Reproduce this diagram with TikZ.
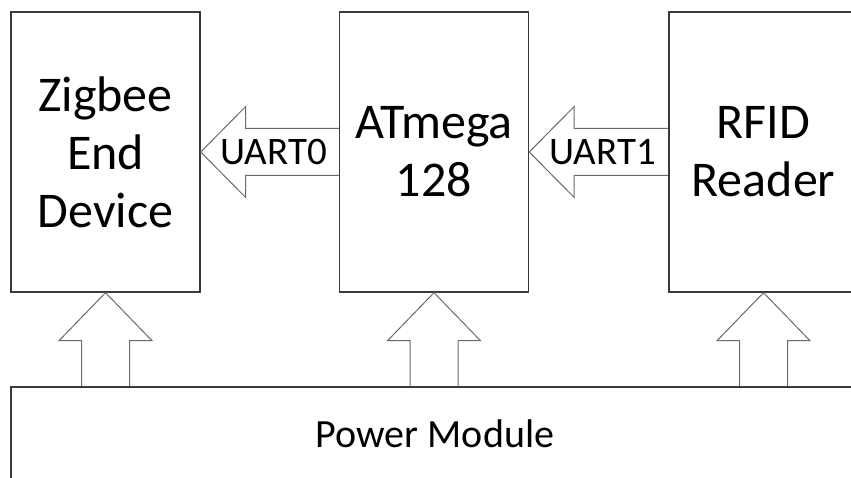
\documentclass[tikz,border=0pt]{standalone}
\usepackage{fontspec}
\setmainfont{Carlito}
\usepackage{xcolor}
\usepackage{tikz}
\usetikzlibrary{calc}
\definecolor{boxline}{HTML}{3A3A3A}
\definecolor{arrowline}{HTML}{6A6A6A}

\begin{document}
\begin{tikzpicture}[x=1pt, y=-1pt,
    block/.style={draw=boxline, line width=1.4pt, minimum width=189pt, minimum height=280pt,
        align=center, inner sep=0pt, font=\fontsize{50}{58}\selectfont},
    fatarrow/.style={draw=arrowline, line width=1pt, line join=miter},
    buslabel/.style={font=\fontsize{39}{42}\selectfont}]
    \useasboundingbox (0,0) rectangle (851,478);

    % Modules
    \node[block] (zed) at (105.5,152) {Zigbee\\End\\Device};
    \node[block] (mcu) at (434,152) {ATmega\\128};
    \node[block] (rfid) at (763.5,152) {RFID\\Reader};

    % Power supply
    \node[block, minimum width=848pt, minimum height=94pt,
        font=\fontsize{40}{44}\selectfont] (pwr) at (435,434) {Power Module};

    % Serial links
    \foreach \src/\dst/\lbl in {mcu/zed/UART0, rfid/mcu/UART1} {
        \draw[fatarrow] let \p1=(\src.west), \p2=(\dst.east) in
            (\x1,\y1+23.5pt) -- (\x2+45pt,\y1+23.5pt) -- (\x2+45pt,\y1+45.5pt) -- (\x2,\y2)
            -- (\x2+45pt,\y1-45.5pt) -- (\x2+45pt,\y1-23.5pt) -- (\x1,\y1-23.5pt);
        \node[buslabel, xshift=4pt] (\lbl) at ($(\src.west)!0.5!(\dst.east)$) {\lbl};
    }

    % Power feeds
    \foreach \m in {zed,mcu,rfid}
        \draw[fatarrow] let \p1=(\m.south), \p2=(pwr.north) in
            (\x1-24pt,\y2) -- (\x1-24pt,\y1-48pt) -- (\x1-46.5pt,\y1-48pt) -- (\x1,\y1)
            -- (\x1+46.5pt,\y1-48pt) -- (\x1+24pt,\y1-48pt) -- (\x1+24pt,\y2);
\end{tikzpicture}
\end{document}
